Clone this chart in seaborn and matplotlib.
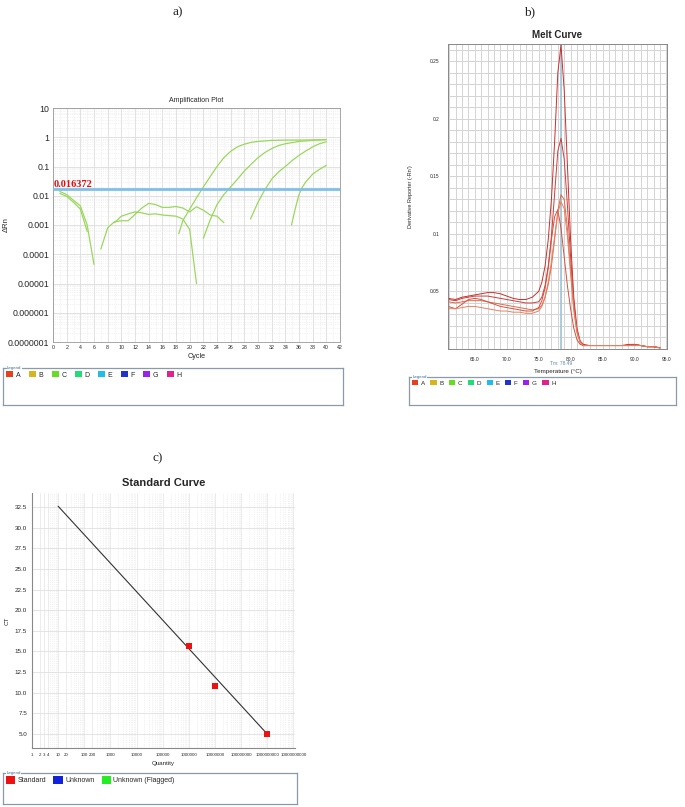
import numpy as np
import pandas as pd
import matplotlib
matplotlib.use('Agg')
import matplotlib.pyplot as plt
import seaborn as sns
from matplotlib.patches import Patch
from matplotlib.ticker import FixedLocator, MultipleLocator, LogLocator, NullFormatter

# ---- a) amplification plot: cycle vs delta Rn, one pair of lists per trace
amp_a1_cycle = [1, 2, 3, 4, 5, 6]
amp_a1_rn = [0.014, 0.011, 0.007, 0.0045, 0.001, 0.000045]
amp_a2_cycle = [1, 2, 3, 4, 5]
amp_a2_rn = [0.012, 0.0095, 0.006, 0.0035, 0.0006]
amp_b_cycle = list(range(7, 26))
amp_b_rn = [0.00015, 0.0008, 0.0013, 0.0014, 0.0014, 0.0023, 0.0038, 0.0055, 0.005, 0.004,
            0.004, 0.0043, 0.0038, 0.0028, 0.0042, 0.0032, 0.0022, 0.002, 0.0012]
amp_c_cycle = list(range(9, 22))
amp_c_rn = [0.0012, 0.002, 0.0024, 0.0028, 0.0026, 0.0023, 0.0024, 0.0022, 0.0021, 0.002,
            0.0016, 0.0007, 0.00001]
amp_d_cycle = [18.4, 19, 20, 21, 22, 23, 24, 25, 26, 27, 28, 29, 30, 32, 34, 36, 38, 40]
amp_d_rn = [0.0005, 0.0014, 0.0035, 0.0085, 0.02, 0.045, 0.1, 0.2, 0.33, 0.47, 0.58, 0.67,
            0.72, 0.78, 0.8, 0.8, 0.81, 0.82]
amp_e_cycle = [22, 23, 24, 25, 26, 27, 28, 29, 30, 31, 32, 33, 34, 36, 38, 40]
amp_e_rn = [0.00035, 0.0015, 0.005, 0.011, 0.02, 0.037, 0.07, 0.12, 0.2, 0.3, 0.41, 0.52,
            0.6, 0.72, 0.78, 0.84]
amp_f_cycle = [28.9, 30, 31, 32, 33, 34, 35, 36, 37, 38, 39, 40]
amp_f_rn = [0.0016, 0.006, 0.016, 0.037, 0.065, 0.1, 0.16, 0.24, 0.34, 0.47, 0.6, 0.7]
amp_g_cycle = [34.9, 35.5, 36, 36.5, 37, 38, 39, 40]
amp_g_rn = [0.001, 0.004, 0.011, 0.02, 0.03, 0.055, 0.08, 0.11]
threshold = 0.016372
amp_ytick_vals = [1e-7, 1e-6, 1e-5, 1e-4, 1e-3, 1e-2, 1e-1, 1, 10]
amp_ytick_labels = ["0.0000001", "0.000001", "0.00001", "0.0001", "0.001", "0.01", "0.1", "1", "10"]

# ---- b) melt curve: temperature vs derivative reporter
melt_temp = [60.8, 62, 63, 64, 65, 66, 67, 68, 69, 70, 71, 72, 73, 74,
             75, 75.5, 76, 76.5, 77, 77.5, 78, 78.5, 79, 79.5, 80, 80.5, 81, 81.5, 82,
             83, 84, 85, 86, 87, 88, 89, 90, 91, 92, 93, 94]
melt_1 = [0.044, 0.043, 0.045, 0.046, 0.047, 0.048, 0.049, 0.049, 0.048, 0.046, 0.044, 0.043, 0.043, 0.045,
          0.05, 0.058, 0.072, 0.095, 0.13, 0.18, 0.24, 0.264, 0.225, 0.16, 0.095, 0.045, 0.018, 0.007, 0.004,
          0.003, 0.003, 0.003, 0.003, 0.003, 0.003, 0.004, 0.004, 0.003, 0.002, 0.002, 0.001]
melt_2 = [0.043, 0.042, 0.044, 0.045, 0.046, 0.046, 0.046, 0.045, 0.044, 0.043, 0.042, 0.041, 0.040, 0.040,
          0.041, 0.045, 0.055, 0.072, 0.098, 0.135, 0.172, 0.183, 0.165, 0.125, 0.08, 0.04, 0.016, 0.006, 0.003,
          0.003, 0.003, 0.003, 0.003, 0.003, 0.003, 0.003, 0.004, 0.003, 0.002, 0.002, 0.001]
melt_3 = [0.041, 0.040, 0.041, 0.042, 0.042, 0.042, 0.041, 0.040, 0.039, 0.038, 0.037, 0.036, 0.035, 0.034,
          0.035, 0.038, 0.045, 0.056, 0.072, 0.095, 0.12, 0.134, 0.13, 0.105, 0.07, 0.036, 0.015, 0.006, 0.003,
          0.003, 0.003, 0.003, 0.003, 0.003, 0.003, 0.003, 0.003, 0.003, 0.002, 0.002, 0.001]
melt_4 = [0.037, 0.035, 0.039, 0.043, 0.044, 0.043, 0.041, 0.039, 0.037, 0.036, 0.035, 0.034, 0.033, 0.033,
          0.036, 0.042, 0.053, 0.07, 0.095, 0.115, 0.121, 0.105, 0.08, 0.055, 0.035, 0.018, 0.008, 0.004, 0.003,
          0.003, 0.003, 0.003, 0.003, 0.003, 0.003, 0.003, 0.004, 0.003, 0.002, 0.002, 0.001]
melt_5 = [0.035, 0.035, 0.036, 0.037, 0.037, 0.036, 0.035, 0.034, 0.033, 0.033, 0.032, 0.032, 0.031, 0.031,
          0.033, 0.037, 0.045, 0.058, 0.076, 0.098, 0.118, 0.128, 0.122, 0.098, 0.065, 0.033, 0.014, 0.006, 0.003,
          0.003, 0.003, 0.003, 0.003, 0.003, 0.003, 0.003, 0.003, 0.003, 0.002, 0.002, 0.001]
melt_colors = ["#c8302c", "#d03c38", "#e06a4a", "#d8503c", "#e88060"]
tm_value = 78.49

# ---- c) standard curve
std_qty = [1e6, 1e7, 1e9]
std_ct = [15.7, 10.8, 5.0]
fit_qty = [10, 1e9]
fit_ct = [32.6, 5.0]
std_xtick_vals = [1, 2, 3, 4, 10, 20, 100, 200, 1e3, 1e4, 1e5, 1e6, 1e7, 1e8, 1e9, 1e10]
std_xtick_labels = ["1", "2", "3", "4", "10", "20", "100", "200", "1000", "10000", "100000",
                    "1000000", "10000000", "100000000", "1000000000", "10000000000"]

well_labels = ["A", "B", "C", "D", "E", "F", "G", "H"]
well_colors = ["#e8401c", "#d8b420", "#66dd22", "#22dd77", "#22bbee", "#2233cc", "#9922ee", "#e0228a"]
std_labels = ["Standard", "Unknown", "Unknown (Flagged)"]
std_colors = ["#ee1111", "#1122dd", "#22ee22"]

sns.set_style("white")
plt.rcParams['font.family'] = ['Liberation Sans', 'DejaVu Sans']

W, H = 685, 807
fig = plt.figure(figsize=(W / 100, H / 100), dpi=100)


def rect(x0, y0, x1, y1):
    return [x0 / W, 1 - y1 / H, (x1 - x0) / W, (y1 - y0) / H]


def legend_box(r, labels, colors, fs, hl, cs):
    lax = fig.add_axes(r)
    lax.set_xticks([])
    lax.set_yticks([])
    for s in lax.spines.values():
        s.set_visible(True)
        s.set_color('#8a9aa8')
        s.set_linewidth(0.9)
    lax.text(0.012, 1.0, 'Legend', transform=lax.transAxes, fontsize=3.2, color='#3a6aa0',
             va='center', ha='left', bbox=dict(facecolor='white', edgecolor='none', pad=0.4))
    handles = [Patch(facecolor=c, edgecolor='none', label=l) for l, c in zip(labels, colors)]
    lax.legend(handles=handles, loc='upper left', ncol=len(labels), frameon=False, fontsize=fs,
               handlelength=hl, handleheight=hl, handletextpad=0.4, columnspacing=cs,
               borderaxespad=0.25, borderpad=0.2)
    return lax


# panel letters
for txt, x, y in [("a)", 178, 12), ("b)", 530, 12), ("c)", 158, 458)]:
    fig.text(x / W, 1 - y / H, txt, family='Liberation Serif', fontsize=9.5, ha='center', va='center')

# ===== a) amplification plot
ax1 = fig.add_axes(rect(53, 108, 340, 342))
amp_traces = [(amp_a1_cycle, amp_a1_rn), (amp_a2_cycle, amp_a2_rn), (amp_b_cycle, amp_b_rn),
              (amp_c_cycle, amp_c_rn), (amp_d_cycle, amp_d_rn), (amp_e_cycle, amp_e_rn),
              (amp_f_cycle, amp_f_rn), (amp_g_cycle, amp_g_rn)]
for cyc, rn in amp_traces:
    sns.lineplot(x=cyc, y=rn, ax=ax1, color="#9ad85c", linewidth=0.9, sort=False, estimator=None)
ax1.set_yscale('log')
ax1.set_xlim(0, 42)
ax1.set_ylim(1e-7, 10)
ax1.axhline(threshold, color="#7fc0e8", linewidth=2.0, zorder=3)
ax1.text(0.1, threshold * 1.08, "0.016372", family='Liberation Serif', fontweight='bold',
         color='#dd1111', fontsize=7.5, ha='left', va='bottom')
ax1.xaxis.set_major_locator(MultipleLocator(2))
ax1.xaxis.set_minor_locator(MultipleLocator(1))
ax1.yaxis.set_major_locator(FixedLocator(amp_ytick_vals))
ax1.set_yticklabels(amp_ytick_labels)
ax1.yaxis.set_minor_locator(LogLocator(base=10, subs=np.arange(2, 10), numticks=20))
ax1.yaxis.set_minor_formatter(NullFormatter())
ax1.grid(which='major', color='#dddddd', linewidth=0.6)
ax1.grid(which='minor', color='#e6e6e6', linewidth=0.5, linestyle=':')
ax1.tick_params(axis='x', labelsize=3.8, length=1.5, pad=1, color='#888888')
ax1.tick_params(axis='y', labelsize=6.3, length=1.5, pad=1, color='#888888')
ax1.tick_params(which='minor', length=0)
for s in ax1.spines.values():
    s.set_color('#999999')
    s.set_linewidth(0.6)
ax1.set_title("Amplification Plot", fontsize=5, pad=4)
ax1.set_xlabel("Cycle", fontsize=5.2, labelpad=2)
ax1.set_ylabel("\u0394Rn", fontsize=5.5)
ax1.yaxis.set_label_coords(-0.15, 0.5)

legend_box(rect(3, 368, 343, 405), well_labels, well_colors, 5, 1.0, 1.2)

# ===== b) melt curve
ax2 = fig.add_axes(rect(448, 44, 667, 349))
melt_df = pd.DataFrame({"temp": melt_temp * 5,
                        "deriv": melt_1 + melt_2 + melt_3 + melt_4 + melt_5,
                        "well": sum([[i] * len(melt_temp) for i in range(5)], [])})
sns.lineplot(data=melt_df, x="temp", y="deriv", hue="well", palette=melt_colors, ax=ax2,
             linewidth=0.7, legend=False, estimator=None)
ax2.axvline(tm_value, color="#9cc6dc", linewidth=1.2, linestyle='-', zorder=1)
ax2.axvline(tm_value, color="#b0b0b0", linewidth=0.4, linestyle=':', zorder=1)
ax2.set_xlim(60.8, 95.1)
ax2.set_ylim(0, 0.265)
ax2.set_xticks([65, 70, 75, 80, 85, 90, 95])
ax2.set_xticklabels(["65.0", "70.0", "75.0", "80.0", "85.0", "90.0", "95.0"])
ax2.set_yticks([0.05, 0.1, 0.15, 0.2, 0.25])
ax2.set_yticklabels(["0.05", "0.1", "0.15", "0.2", "0.25"])
ax2.xaxis.set_minor_locator(MultipleLocator(1))
ax2.yaxis.set_minor_locator(MultipleLocator(0.01))
ax2.grid(which='both', color='#d4d4d4', linewidth=0.7)
ax2.tick_params(labelsize=3.5, length=0, pad=6)
for s in ax2.spines.values():
    s.set_color('#888888')
    s.set_linewidth(0.7)
ax2.text(tm_value, -0.0125, "Tm: 78.49", fontsize=3.5, color='#5a8ab0', ha='center', va='center')
ax2.set_title("Melt Curve", fontsize=7, fontweight='bold', pad=4)
ax2.set_xlabel("Temperature (\u00b0C)", fontsize=4.5, labelpad=5)
ax2.set_ylabel("Derivative Reporter (-Rn')", fontsize=4, labelpad=12)

legend_box(rect(409, 377, 676, 405), well_labels, well_colors, 4.5, 1.0, 0.9)

# ===== c) standard curve
ax3 = fig.add_axes(rect(32, 493, 295, 748))
sns.lineplot(x=fit_qty, y=fit_ct, ax=ax3, color="#333333", linewidth=0.8)
sns.scatterplot(x=std_qty, y=std_ct, ax=ax3, color="#ee1111", marker='s', s=18,
                linewidth=0, zorder=4)
ax3.set_xscale('log')
ax3.set_xlim(1, 1.16e10)
ax3.set_ylim(3.3, 34.2)
ax3.xaxis.set_major_locator(FixedLocator(std_xtick_vals))
ax3.set_xticklabels(std_xtick_labels)
ax3.xaxis.set_minor_locator(LogLocator(base=10, subs=np.arange(2, 10), numticks=30))
ax3.xaxis.set_minor_formatter(NullFormatter())
ax3.yaxis.set_major_locator(MultipleLocator(2.5))
ax3.yaxis.set_major_formatter(matplotlib.ticker.FormatStrFormatter('%.1f'))
ax3.grid(which='major', axis='y', color='#e0e0e0', linewidth=0.6)
ax3.grid(which='major', axis='x', color='#e4e4e4', linewidth=0.5)
ax3.grid(which='minor', axis='x', color='#e4e4e4', linewidth=0.5, linestyle=':')
ax3.tick_params(axis='x', labelsize=3.2, length=1.5, pad=2, color='#888888')
ax3.tick_params(axis='y', labelsize=4.5, length=1.5, pad=2, color='#888888')
ax3.tick_params(which='minor', length=0)
for s in ax3.spines.values():
    s.set_visible(False)
ax3.spines['left'].set_visible(True)
ax3.spines['bottom'].set_visible(True)
ax3.spines['left'].set_color('#888888')
ax3.spines['bottom'].set_color('#888888')
ax3.set_title("Standard Curve", fontsize=8, fontweight='bold', pad=5)
ax3.set_xlabel("Quantity", fontsize=4.5, labelpad=3)
ax3.set_ylabel("CT", fontsize=4.5, labelpad=4)

legend_box(rect(3, 773, 297, 804), std_labels, std_colors, 5, 1.3, 1.0)

fig.savefig("out.png", dpi=100)
